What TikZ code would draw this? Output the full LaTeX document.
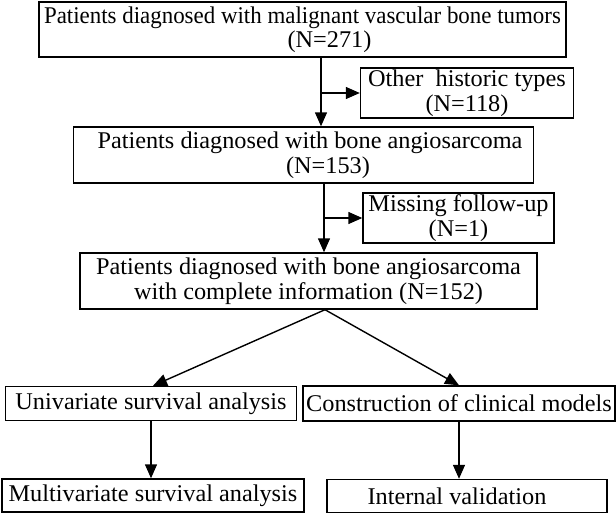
\documentclass[tikz,border=0pt]{standalone}
\usepackage{fontspec}
\setmainfont[FakeStretch=1.012]{Liberation Serif}
\newfontfamily\narrowserif[FakeStretch=0.955]{Liberation Serif}
\usetikzlibrary{arrows.meta}
\begin{document}
\begin{tikzpicture}[x=1pt,y=-1pt,
  box/.style={draw,line width=1.4pt,inner sep=0pt,align=center,
    font=\fontsize{24pt}{24.5pt}\selectfont},
  arr/.style={line width=1.4pt,-{Triangle[length=14pt,width=12pt]}}]
\useasboundingbox (0,0) rectangle (616,514);
\node[box,minimum width=527pt,minimum height=55pt] (b1) at (302.5,29.5)
  {{\narrowserif Patients diagnosed with malignant vascular bone tumors}\\\hspace*{54pt}(N=271)};
\node[box,minimum width=213pt,minimum height=50pt] (o1) at (467,93)
  {Other\ \ historic types\\(N=118)};
\node[box,minimum width=460pt,minimum height=56pt] (b3) at (303.5,155)
  {\hspace*{13pt}Patients diagnosed with bone angiosarcoma\\\hspace*{49pt}(N=153)};
\node[box,minimum width=191pt,minimum height=50pt] (m1) at (458.5,218)
  {Missing follow-up\\(N=1)};
\node[box,minimum width=457pt,minimum height=56pt] (b5) at (308.5,281)
  {Patients diagnosed with bone angiosarcoma\\with complete information (N=152)};
\node[box,minimum width=291pt,minimum height=34pt] (ua) at (151,403.5)
  {Univariate survival analysis};
\node[box,minimum width=312pt,minimum height=35pt] (cm) at (459,403.5)
  {Construction of clinical models};
\node[box,minimum width=302pt,minimum height=33pt] (ma) at (153,495.5)
  {Multivariate survival analysis};
\node[box,minimum width=280pt,minimum height=33pt] (iv) at (467,496)
  {\hspace*{-20pt}Internal validation};
\coordinate (j1) at (321,93);
\coordinate (j2) at (324,218);
\coordinate (ap) at (325,0);
\draw[arr] (j1 |- b1.south) -- (j1 |- b3.north);
\draw[arr] (j1) -- (o1.west |- j1);
\draw[arr] (j2 |- b3.south) -- (j2 |- b5.north);
\draw[arr] (j2) -- (m1.west |- j2);
\draw[arr] (ap |- b5.south) -- ([xshift=2pt]ua.north);
\draw[arr] (ap |- b5.south) -- (cm.north);
\draw[arr] (ua.south) -- (ua.south |- ma.north);
\draw[arr] (cm.south) -- (cm.south |- iv.north);
\end{tikzpicture}
\end{document}
